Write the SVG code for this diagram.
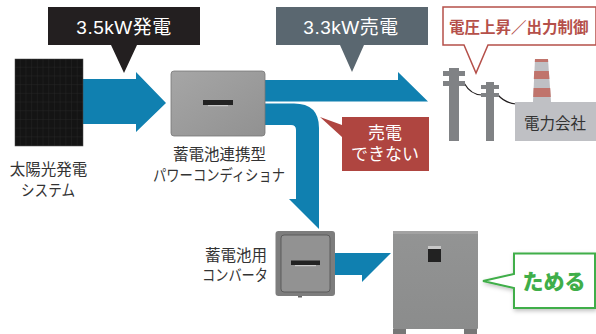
<svg xmlns="http://www.w3.org/2000/svg" width="596" height="334" viewBox="0 0 596 334">
<defs>
<linearGradient id="g1" x1="0" y1="0" x2="1" y2="1"><stop offset="0" stop-color="#a6a6a6"/><stop offset="1" stop-color="#919191"/></linearGradient>
<linearGradient id="g2" x1="0" y1="0" x2="0" y2="1"><stop offset="0" stop-color="#939494"/><stop offset="1" stop-color="#8b8c8c"/></linearGradient>
<pattern id="cells" width="5.700" height="8.700" patternUnits="userSpaceOnUse" x="15" y="59"><rect width="5.700" height="8.700" fill="#141414"/><path d="M5.500 0V8.700M0 8.500H5.700" stroke="#2a2a2a" stroke-width="0.500"/></pattern>
<filter id="sh" x="-10%" y="-10%" width="125%" height="130%"><feDropShadow dx="1" dy="2" stdDeviation="2" flood-color="#000" flood-opacity="0.250"/></filter>
</defs>
<style>
text{font-family:"Noto Sans CJK JP","Noto Sans",sans-serif}
.t{font-size:15.500px;fill:#333;text-anchor:middle}
.w{fill:#fff;text-anchor:middle}
.kw{font-family:"Liberation Sans","Noto Sans CJK JP",sans-serif;font-size:19px;letter-spacing:0.500px}
.r{font-family:"Liberation Sans","Noto Sans CJK JP",sans-serif;font-size:17px}
.arrow{fill:#1080b0}
.pole{fill:#808285}
.logo{fill:#222}
.sil{fill:#c8c8c8}
.foot{fill:#777}
</style>
<rect width="596" height="334" fill="#fff"/>
<g id="connectors">
<path class="arrow" d="M83 79H136V72L166 103L136 132V124H83Z"/>
<path class="arrow" d="M264 80H398V72L428 101.500H264Z"/>
<path class="arrow" d="M264 103.500H294Q319 103.500 319 128V229L289 199H296V130Q296 125 291 125H264Z"/>
<path class="arrow" d="M335 253H391L362 282V275H335Z"/>
</g>
<g id="solar-panel">
<rect x="15" y="59" width="68" height="87" fill="url(#cells)" stroke="#444" stroke-width="0.500"/>
<text class="t" x="48.500" y="175">太陽光発電</text>
<text class="t" x="48" y="196" textLength="54" lengthAdjust="spacingAndGlyphs">システム</text>
</g>
<g id="label-generate">
<path d="M48 7H200V45H137L124 73L111 45H48Z" fill="#231f20"/>
<text class="w kw" x="124" y="34">3.5kW発電</text>
</g>
<g id="inverter">
<rect x="171" y="71" width="94" height="65" rx="3" fill="url(#g1)" stroke="#777" stroke-width="0.800"/>
<rect class="logo" x="203" y="100" width="30" height="5"/>
<rect class="sil" x="208" y="105" width="20" height="1.200"/>
<text class="t" x="219.500" y="160">蓄電池連携型</text>
<text class="t" x="219" y="181" textLength="132" lengthAdjust="spacingAndGlyphs">パワーコンディショナ</text>
</g>
<g id="label-sell">
<path d="M276 7H428V45H364L352 72L340 45H276Z" fill="#5a6770"/>
<text class="w kw" x="351" y="34">3.3kW売電</text>
</g>
<g id="callout-voltage">
<path d="M443 7H596V45H488L476 73L464 45H443Z" fill="#fff" stroke="#b5504a" stroke-width="1.500"/>
<text x="449" y="33" font-size="15.500" font-weight="700" fill="#b5504a">電圧上昇／出力制御</text>
</g>
<g id="utility">
<path d="M464 83Q471 95 482 95M498 95Q505 103 516 104" fill="none" stroke="#231f20" stroke-width="1.200"/>
<rect class="pole" x="449" y="68" width="10" height="73"/>
<rect class="pole" x="443" y="71" width="22" height="5"/>
<rect class="pole" x="443" y="81" width="22" height="5"/>
<rect class="pole" x="486" y="82" width="8" height="59"/>
<rect class="pole" x="481" y="85" width="18" height="4"/>
<rect class="pole" x="481" y="93" width="18" height="4"/>
<path d="M535 59H548L551 102H533Z" fill="#bfc0c4"/>
<path d="M535 59H548L548.200 62H534.800ZM534.200 71H548.800L549.400 79H533.800ZM533.600 88H550.200L550.800 97H533.200Z" fill="#c0746c"/>
<rect x="515" y="102" width="81" height="39" fill="#bfc0c4"/>
<text x="555" y="129" font-size="15.500" fill="#333" text-anchor="middle">電力会社</text>
</g>
<g id="label-cannot-sell">
<path d="M342 117H429V171H342V137L320 117L342 125Z" fill="#af4540"/>
<text class="w r" x="385" y="139">売電</text>
<text class="w r" x="385" y="159.500">できない</text>
</g>
<g id="converter">
<rect x="275.500" y="231" width="59.500" height="65" rx="3" fill="#7d7d7d"/>
<rect x="281" y="235" width="49" height="57" rx="3" fill="#929292" stroke="#5c5c5c"/>
<rect class="logo" x="291" y="260.500" width="29" height="4.500"/>
<rect class="sil" x="295" y="265" width="21" height="1.200"/>
<rect x="298" y="296" width="4" height="1.500" fill="#666"/>
<text class="t" x="236" y="261">蓄電池用</text>
<text class="t" x="235" y="281" textLength="66" lengthAdjust="spacingAndGlyphs">コンバータ</text>
</g>
<g id="battery">
<rect x="393" y="231" width="85" height="98" rx="1" fill="url(#g2)"/>
<rect x="393" y="231" width="85" height="3" fill="#a2a2a2"/>
<rect class="foot" x="393" y="329" width="13" height="5"/>
<rect class="foot" x="464" y="329" width="13" height="5"/>
<rect class="logo" x="428" y="246" width="13" height="16"/>
<rect class="sil" x="428" y="246" width="13" height="3"/>
</g>
<g id="callout-store">
<path d="M514 253.500H595V308H514V288L483 281L514 274Z" fill="#fff" stroke="#3fae49" stroke-width="2" filter="url(#sh)"/>
<text x="554" y="289" font-size="21" font-weight="900" fill="#3fae49" text-anchor="middle">ためる</text>
</g>
</svg>
